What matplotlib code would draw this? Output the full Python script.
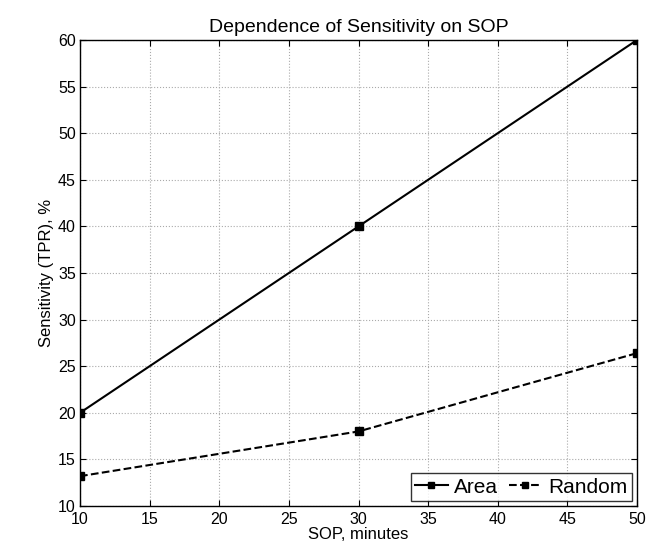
import matplotlib
matplotlib.use("Agg")
import matplotlib.pyplot as plt

plt.rcParams["font.family"] = ["Liberation Sans", "DejaVu Sans"]

sop = [10, 30, 50]
area = [20, 40, 60]
random_tpr = [13.2, 18, 26.4]

fig = plt.figure(figsize=(6.47, 5.53), dpi=100)
ax = fig.add_axes([80 / 647, 47 / 553, 557 / 647, 466 / 553])

ax.plot(sop, area, "k-", marker="s", markersize=5.5, linewidth=1.5, label="Area")
ax.plot(sop, random_tpr, "k--", marker="s", markersize=5.5, linewidth=1.5, label="Random")

ax.set_xlim(10, 50)
ax.set_ylim(10, 60)
ax.set_xticks(range(10, 51, 5))
ax.set_yticks(range(10, 61, 5))
ax.grid(True, linestyle=":", color="#aaaaaa", linewidth=0.8)
ax.tick_params(direction="in", labelsize=11.5, length=4, top=True, right=True, pad=2)
ax.tick_params(axis="x", pad=4)
ax.tick_params(axis="y", pad=3)
for s in ax.spines.values():
    s.set_linewidth(1.0)

ax.set_xlabel("SOP, minutes", fontsize=12, labelpad=0)
ax.set_ylabel("Sensitivity (TPR), %", fontsize=12, labelpad=3)
ax.set_title("Dependence of Sensitivity on SOP", fontsize=14, pad=6)

leg = ax.legend(loc="lower right", ncol=2, fontsize=15, frameon=True, fancybox=False,
                edgecolor="black", handlelength=1.6, handletextpad=0.3, columnspacing=0.5,
                borderpad=0.2, borderaxespad=0.25, markerscale=0.8)
leg.get_frame().set_linewidth(1.0)

fig.savefig("out.png", dpi=100)
